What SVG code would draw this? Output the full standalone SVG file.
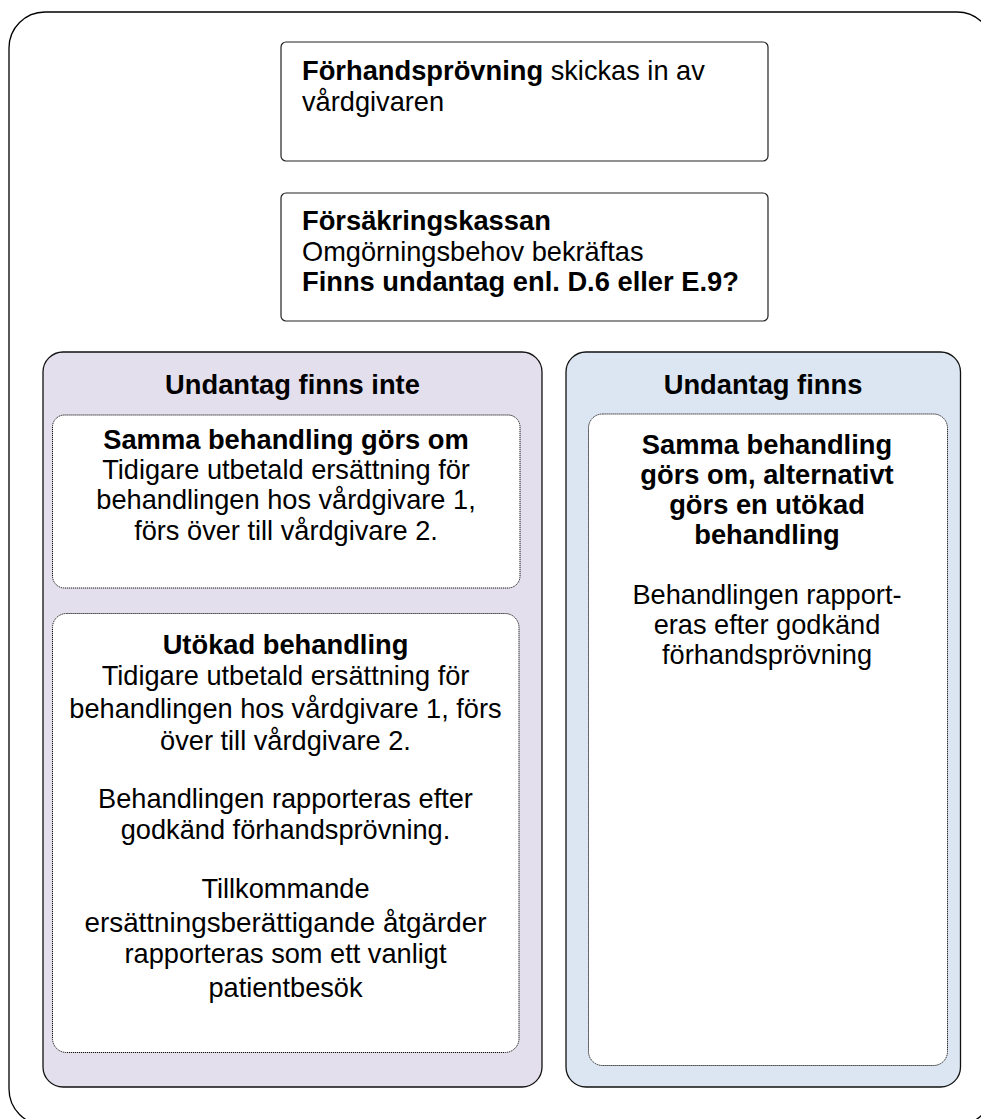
<svg xmlns="http://www.w3.org/2000/svg" width="981" height="1119" viewBox="0 0 981 1119">
<style>
text{font-family:"Liberation Sans",Arial,sans-serif;font-size:27.2px;fill:#000}
.b{font-weight:bold;font-size:27.3px}
.c{text-anchor:middle}
.box{fill:#fff;stroke:#222;stroke-width:1.2}
.panel{stroke:#111;stroke-width:1.3}
.inner{fill:#fff;stroke:#111;stroke-width:1;stroke-dasharray:1.2 0.8}
</style>
<rect x="9" y="12" width="984" height="1113" rx="36" ry="36" fill="#fff" stroke="#000" stroke-width="1.3"/>
<g id="node-forhandsprovning">
<rect class="box" x="281" y="42" width="487" height="119" rx="5"/>
<text x="302" y="79.5"><tspan class="b">Förhandsprövning</tspan> skickas in av</text>
<text x="302" y="110.5">vårdgivaren</text>
</g>
<g id="node-forsakringskassan">
<rect class="box" x="281" y="193" width="487" height="128" rx="5"/>
<text class="b" x="302" y="230">Försäkringskassan</text>
<text x="302" y="261">Omgörningsbehov bekräftas</text>
<text class="b" x="302" y="291">Finns undantag enl. D.6 eller E.9?</text>
</g>
<g id="node-undantag-finns-inte">
<rect class="panel" x="43" y="352" width="499" height="735" rx="20" fill="#E4DFEC"/>
<text class="b c" x="292.5" y="393.5">Undantag finns inte</text>
</g>
<g id="node-samma-behandling">
<rect class="inner" x="52.5" y="415" width="467.5" height="173" rx="12"/>
<text class="b c" x="286" y="448.5">Samma behandling görs om</text>
<text class="c" x="286" y="478.5">Tidigare utbetald ersättning för</text>
<text class="c" x="286" y="509">behandlingen hos vårdgivare 1,</text>
<text class="c" x="286" y="539.5">förs över till vårdgivare 2.</text>
</g>
<g id="node-utokad-behandling">
<rect class="inner" x="52.5" y="613.5" width="466.5" height="439" rx="14"/>
<text class="b c" x="285.5" y="653.5">Utökad behandling</text>
<text class="c" x="285.5" y="685">Tidigare utbetald ersättning för</text>
<text class="c" x="285.5" y="718">behandlingen hos vårdgivare 1, förs</text>
<text class="c" x="285.5" y="750">över till vårdgivare 2.</text>
<text class="c" x="285.5" y="808">Behandlingen rapporteras efter</text>
<text class="c" x="285.5" y="839">godkänd förhandsprövning.</text>
<text class="c" x="285.5" y="898">Tillkommande</text>
<text class="c" x="285.5" y="932" textLength="402" lengthAdjust="spacingAndGlyphs">ersättningsberättigande åtgärder</text>
<text class="c" x="285.5" y="963">rapporteras som ett vanligt</text>
<text class="c" x="285.5" y="996.5">patientbesök</text>
</g>
<g id="node-undantag-finns">
<rect class="panel" x="566" y="352" width="394.5" height="735" rx="20" fill="#DCE6F2"/>
<text class="b c" x="763" y="393.5">Undantag finns</text>
</g>
<g id="node-samma-eller-utokad">
<rect class="inner" x="588.5" y="414" width="359" height="651.5" rx="14"/>
<text class="b c" x="767" y="453.5">Samma behandling</text>
<text class="b c" x="767" y="483.5">görs om, alternativt</text>
<text class="b c" x="767" y="513.5">görs en utökad</text>
<text class="b c" x="767" y="544">behandling</text>
<text class="c" x="767" y="604">Behandlingen rapport-</text>
<text class="c" x="767" y="633.5">eras efter godkänd</text>
<text class="c" x="767" y="663.5">förhandsprövning</text>
</g>
<g id="connectors"></g>
</svg>
